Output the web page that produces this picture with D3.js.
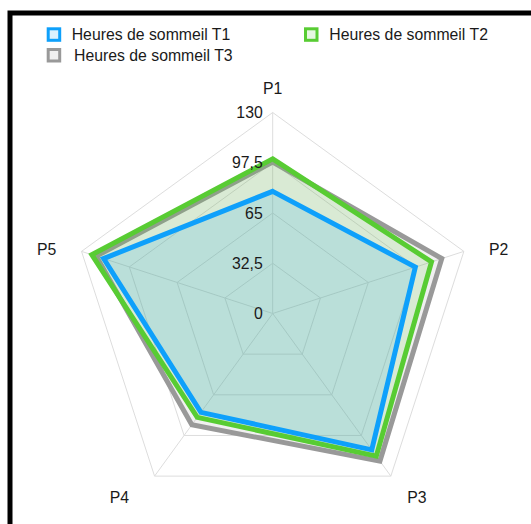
<!DOCTYPE html>
<html>
<head>
<meta charset="utf-8">
<script src="https://cdn.jsdelivr.net/npm/d3@7"></script>
<style>
  html, body { margin: 0; padding: 0; background: #fff; }
  svg { display: block; font-family: "Liberation Sans", Arial, Helvetica, sans-serif; }
</style>
</head>
<body>
<svg id="chart" width="531" height="524"></svg>
<script>
// Radar chart: sleep hours per participant at three time points
const axes = ["P1", "P2", "P3", "P4", "P5"];
const seriesNames = ["Heures de sommeil T1", "Heures de sommeil T2", "Heures de sommeil T3"];
const t1 = [79, 97, 109, 79, 115];
const t2 = [100, 108, 114, 83, 123];
const t3 = [98, 115, 118, 89, 120];
const tickValues = [0, 32.5, 65, 97.5, 130];
const tickLabels = ["0", "32,5", "65", "97,5", "130"];

const strokes = ["#0ea0fb", "#58cc33", "#999999"];
const fills = ["rgba(14,160,251,0.15)", "rgba(88,204,51,0.15)", "rgba(153,153,153,0.15)"];
const series = [t1, t2, t3];
const fontSize = 15.8;

const svg = d3.select("#chart");
const cx = 272.7, cy = 313.5, R = 201;

// frame
svg.append("rect")
  .attr("x", 10).attr("y", 13).attr("width", 1000).attr("height", 1000)
  .attr("fill", "none").attr("stroke", "#000").attr("stroke-width", 5);

const r = d3.scaleLinear().domain([0, 130]).range([0, R]);
const angle = d3.scalePoint().domain(axes).range([0, 2 * Math.PI * (axes.length - 1) / axes.length]);

const g = svg.append("g").attr("transform", `translate(${cx},${cy})`);

const radial = d3.lineRadial()
  .angle(d => angle(d.axis))
  .radius(d => r(d.value))
  .curve(d3.curveLinearClosed);

// grid rings
const gridG = g.append("g");
tickValues.slice(1).forEach(v => {
  gridG.append("path")
    .attr("d", radial(axes.map(a => ({ axis: a, value: v }))))
    .attr("fill", "none").attr("stroke", "#dddddd").attr("stroke-width", 1);
});
// spokes
axes.forEach(a => {
  const ang = angle(a);
  gridG.append("line")
    .attr("x1", 0).attr("y1", 0)
    .attr("x2", r(130) * Math.sin(ang)).attr("y2", -r(130) * Math.cos(ang))
    .attr("stroke", "#dddddd").attr("stroke-width", 1);
});

// datasets, first series on top
const dataG = g.append("g");
for (let i = series.length - 1; i >= 0; i--) {
  dataG.append("path")
    .attr("d", radial(axes.map((a, k) => ({ axis: a, value: series[i][k] }))))
    .attr("fill", fills[i])
    .attr("stroke", strokes[i])
    .attr("stroke-width", 5)
    .attr("stroke-linejoin", "miter");
}

// tick labels
g.append("g").selectAll("text")
  .data(tickValues)
  .join("text")
  .attr("x", -10)
  .attr("y", d => -r(d))
  .attr("dy", "0.35em")
  .attr("text-anchor", "end")
  .attr("font-size", fontSize)
  .attr("fill", "#1a1a1a")
  .text((d, i) => tickLabels[i]);

// axis labels
g.append("g").selectAll("text")
  .data(axes)
  .join("text")
  .each(function (a) {
    const ang = angle(a);
    const dx = Math.sin(ang), dy = -Math.cos(ang);
    const lr = r(130) + 24;
    let x = dx * lr, y = dy * lr;
    if (Math.abs(dx) > 0.1) x += Math.sign(dx) * 12;
    if (dx < -0.1 && dy > 0.5) x -= 9;
    if (Math.abs(dx) > 0.8) y += 5;
    if (dy > 0.5) y += 2;
    d3.select(this).attr("x", x).attr("y", y);
  })
  .attr("dy", "0.35em")
  .attr("text-anchor", "middle")
  .attr("font-size", fontSize)
  .attr("fill", "#1a1a1a")
  .text(d => d);

// legend
const legendPos = [[48.2, 28.8, 71.7], [305.5, 28.8, 329.3], [48.2, 49.5, 74]];
const legend = svg.append("g");
seriesNames.forEach((name, i) => {
  const [bx, by, tx] = legendPos[i];
  legend.append("rect")
    .attr("x", bx).attr("y", by).attr("width", 11.5).attr("height", 11.5)
    .attr("fill", fills[i]).attr("stroke", strokes[i]).attr("stroke-width", 3);
  legend.append("text")
    .attr("x", tx).attr("y", by + 6)
    .attr("dy", "0.35em")
    .attr("font-size", fontSize)
    .attr("fill", "#1a1a1a")
    .text(name);
});
</script>
</body>
</html>
